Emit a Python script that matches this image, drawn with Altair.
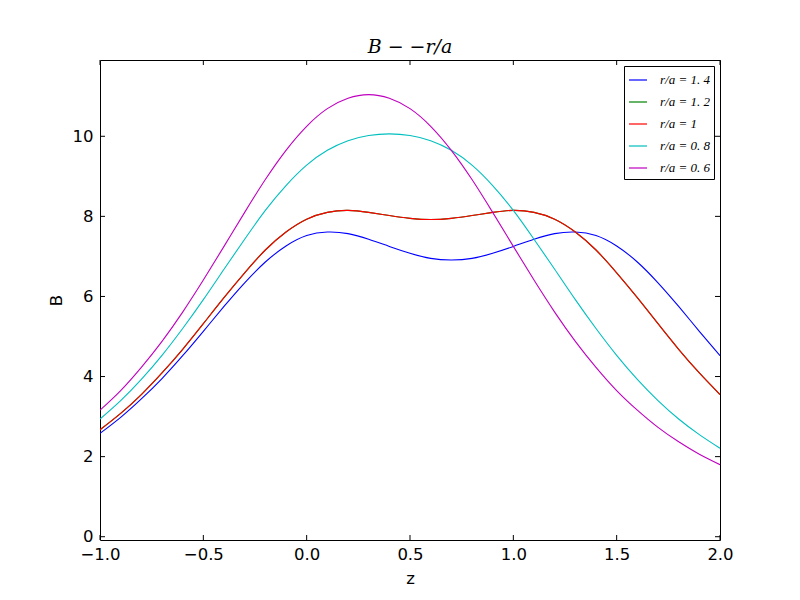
import altair as alt
import pandas as pd

# z positions (shared by every series)
z = [-1.0, -0.9, -0.8, -0.7, -0.6, -0.5, -0.4, -0.3, -0.2, -0.1, 0.0,
     0.1, 0.2, 0.3, 0.4, 0.5, 0.6, 0.7, 0.8, 0.9, 1.0,
     1.1, 1.2, 1.3, 1.4, 1.5, 1.6, 1.7, 1.8, 1.9, 2.0]

b_14 = [2.58, 2.98, 3.44, 3.95, 4.52, 5.13, 5.75, 6.34, 6.86, 7.26, 7.52,
        7.61, 7.57, 7.43, 7.25, 7.08, 6.95, 6.91, 6.95, 7.08, 7.25,
        7.43, 7.57, 7.61, 7.52, 7.26, 6.86, 6.34, 5.75, 5.13, 4.52]
b_12 = [2.67, 3.08, 3.55, 4.09, 4.68, 5.32, 5.97, 6.59, 7.16, 7.61, 7.93,
        8.10, 8.15, 8.10, 8.02, 7.95, 7.92, 7.95, 8.02, 8.10, 8.15,
        8.10, 7.93, 7.61, 7.16, 6.59, 5.97, 5.32, 4.68, 4.09, 3.55]
b_10 = [2.67, 3.08, 3.55, 4.09, 4.68, 5.32, 5.97, 6.59, 7.16, 7.61, 7.93,
        8.10, 8.15, 8.10, 8.02, 7.95, 7.92, 7.95, 8.02, 8.10, 8.15,
        8.10, 7.93, 7.61, 7.16, 6.59, 5.97, 5.32, 4.68, 4.09, 3.55]
b_08 = [2.94, 3.40, 3.93, 4.53, 5.20, 5.92, 6.68, 7.43, 8.15, 8.77, 9.28,
        9.65, 9.89, 10.02, 10.06, 10.02, 9.89, 9.65, 9.28, 8.77, 8.15,
        7.43, 6.68, 5.92, 5.20, 4.53, 3.93, 3.40, 2.94, 2.55, 2.21]
b_06 = [3.16, 3.65, 4.23, 4.88, 5.61, 6.41, 7.25, 8.10, 8.92, 9.65, 10.25,
        10.69, 10.95, 11.04, 10.95, 10.69, 10.25, 9.65, 8.92, 8.10, 7.25,
        6.41, 5.61, 4.88, 4.23, 3.65, 3.16, 2.73, 2.37, 2.06, 1.80]

series_names = ["r/a = 1. 4", "r/a = 1. 2", "r/a = 1", "r/a = 0. 8", "r/a = 0. 6"]
series_values = [b_14, b_12, b_10, b_08, b_06]
series_colors = ["#0000ff", "#008000", "#ff0000", "#00bfbf", "#bf00bf"]

x_ticks = [-1.0, -0.5, 0.0, 0.5, 1.0, 1.5, 2.0]
y_ticks = [0, 2, 4, 6, 8, 10]

W, H = 620, 480
x_scale = alt.Scale(domain=[-1, 2], nice=False, zero=False)
y_scale = alt.Scale(domain=[-0.082, 11.905], nice=False, zero=False)

color_scale = alt.Scale(domain=series_names, range=series_colors)
legend = alt.Legend(
    title=None, orient="none", legendX=524, legendY=6,
    symbolType="stroke", symbolSize=324, symbolStrokeWidth=1.2,
    labelFont="Liberation Serif", labelFontStyle="italic", labelFontSize=13,
    labelColor="black", labelOffset=12,
    strokeColor="black", fillColor="white", padding=4, rowPadding=5,
    cornerRadius=0,
)

x_axis = alt.Axis(values=x_ticks, format=".1f", title="z", grid=False, ticks=False,
                  domain=False, labelFont="DejaVu Sans", labelFontSize=16.5,
                  labelColor="black", labelPadding=6, titleFont="DejaVu Sans",
                  titleFontSize=16.5, titleFontWeight="normal", titleColor="black",
                  titlePadding=8, labelFlush=False)
y_axis = alt.Axis(values=y_ticks, format="d", title="B", grid=False, ticks=False,
                  domain=False, labelFont="DejaVu Sans", labelFontSize=16.5,
                  labelColor="black", labelPadding=7, titleFont="DejaVu Sans",
                  titleFontSize=16.5, titleFontWeight="normal", titleColor="black",
                  titlePadding=8)

layers = []
for name, vals, col in zip(series_names, series_values, series_colors):
    df = pd.DataFrame({"z": z, "B": vals, "series": name})
    layers.append(
        alt.Chart(df).mark_line(strokeWidth=1.1, interpolate="natural", clip=True).encode(
            x=alt.X("z:Q", scale=x_scale, axis=x_axis),
            y=alt.Y("B:Q", scale=y_scale, axis=y_axis),
            color=alt.Color("series:N", scale=color_scale, legend=legend),
        )
    )

xt = pd.DataFrame({"z": x_ticks})
yt = pd.DataFrame({"B": y_ticks})
tick_len = 5
ticks = [
    alt.Chart(xt).mark_rule(color="black", strokeWidth=1).encode(
        x=alt.X("z:Q", scale=x_scale, axis=x_axis),
        y=alt.value(H), y2=alt.value(H - tick_len)),
    alt.Chart(xt).mark_rule(color="black", strokeWidth=1).encode(
        x=alt.X("z:Q", scale=x_scale, axis=x_axis),
        y=alt.value(0), y2=alt.value(tick_len)),
    alt.Chart(yt).mark_rule(color="black", strokeWidth=1).encode(
        y=alt.Y("B:Q", scale=y_scale, axis=y_axis),
        x=alt.value(0), x2=alt.value(tick_len)),
    alt.Chart(yt).mark_rule(color="black", strokeWidth=1).encode(
        y=alt.Y("B:Q", scale=y_scale, axis=y_axis),
        x=alt.value(W), x2=alt.value(W - tick_len)),
]

chart = alt.layer(*layers, *ticks).properties(
    width=W, height=H,
    title=alt.Title("B − −r/a", font="DejaVu Serif", fontStyle="italic",
                    fontSize=19, fontWeight="normal", color="black",
                    anchor="middle", offset=3),
    padding={"left": 100, "top": 60, "right": 80, "bottom": 60},
    autosize=alt.AutoSizeParams(type="none"),
    background="white",
).configure_view(stroke="black", strokeWidth=1)

chart.save("out.html", embed_options={"renderer": "svg", "actions": False})
